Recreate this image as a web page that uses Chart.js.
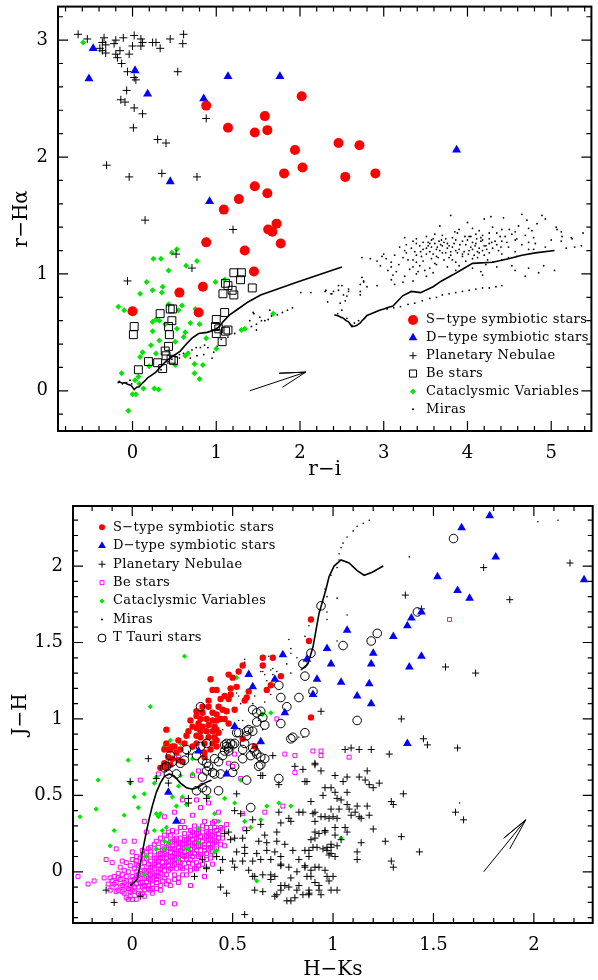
<!DOCTYPE html>
<html>
<head>
<meta charset="utf-8">
<script src="https://cdn.jsdelivr.net/npm/chart.js@4.4.1/dist/chart.umd.min.js"></script>
<style>
  body { margin: 0; background: #fff; }
  canvas { display: block; }
</style>
</head>
<body>
<canvas id="topChart" width="598" height="490"></canvas>
<canvas id="botChart" width="598" height="490"></canvas>
<script>
// ---------- top panel: r-i vs r-Halpha ----------
const topXTicks = [0, 1, 2, 3, 4, 5];
const topYTicks = [0, 1, 2, 3];

const sTypeTop = [[0.88,2.44],[1.58,2.35],[1.14,2.25],[1.46,2.21],[1.61,2.23],[1.94,2.06],[1.81,1.86],[1.46,1.75],[1.61,1.69],[1.27,1.64],[1.09,1.55],[1.72,1.43],[1.62,1.38],[1.67,1.36],[1.77,1.26],[0.88,1.27],[1.34,1.20],[2.02,2.52],[2.03,1.91],[2.46,2.12],[2.71,2.10],[2.54,1.83],[2.90,1.86],[1.45,1.02],[0.56,0.84],[0.84,0.89],[0.00,0.68],[0.79,0.67]];

const dTypeTop = [[-0.47,2.93],[-0.52,2.67],[0.03,2.74],[0.18,2.54],[0.85,2.50],[1.14,2.69],[1.76,2.69],[0.45,1.79],[0.92,1.62],[3.87,2.06]];

const pnTop = [[-0.65,3.05],[-0.54,3.01],[-0.34,3.02],[-0.36,2.98],[-0.32,2.96],[-0.39,2.93],[-0.22,2.97],[-0.20,3.00],[-0.11,3.02],[0.02,3.04],[0.00,2.95],[0.10,3.01],[0.12,2.98],[0.10,2.95],[0.24,2.98],[0.28,2.98],[0.33,2.93],[0.45,3.01],[0.61,3.05],[0.60,2.97],[-0.36,2.91],[-0.32,2.89],[-0.20,2.88],[-0.15,2.91],[-0.18,2.85],[-0.04,2.88],[-0.13,2.80],[-0.06,2.73],[0.02,2.68],[0.04,2.66],[-0.07,2.57],[-0.14,2.49],[-0.09,2.47],[0.02,2.42],[0.12,2.37],[0.01,2.25],[0.30,2.15],[0.40,2.12],[-0.31,1.93],[-0.04,1.83],[0.35,1.86],[0.77,1.83],[0.54,2.73],[0.88,2.33],[0.15,1.46],[1.20,1.38],[-0.06,0.94],[0.52,1.17],[0.71,1.05]];

const beTop = [[1.21,1.01],[1.30,1.01],[1.29,0.95],[1.43,0.88],[1.11,0.92],[1.14,0.90],[1.08,0.83],[1.19,0.86],[1.21,0.82],[0.33,0.66],[0.45,0.70],[0.47,0.60],[0.43,0.55],[0.44,0.48],[0.02,0.55],[0.01,0.48],[1.10,0.67],[1.00,0.61],[0.99,0.55],[1.03,0.53],[1.14,0.52],[1.11,0.51],[1.00,0.49],[1.07,0.42],[0.43,0.38],[0.39,0.34],[0.40,0.30],[0.46,0.27],[0.19,0.25],[0.30,0.24],[0.36,0.19],[0.07,0.18],[0.49,0.26],[0.48,0.70]];

const cvTop = [[0.53,1.21],[0.47,1.18],[0.25,1.13],[0.34,1.13],[0.64,1.07],[0.77,1.11],[0.43,1.03],[0.17,0.93],[0.24,0.86],[0.35,0.84],[0.36,0.89],[0.09,0.83],[0.99,0.93],[1.10,0.95],[-0.17,0.72],[-0.10,0.69],[0.43,0.74],[0.59,0.73],[0.55,0.69],[0.75,0.70],[0.28,0.61],[0.24,0.59],[0.32,0.60],[0.39,0.57],[0.53,0.53],[0.69,0.58],[0.80,0.57],[0.24,0.51],[0.32,0.43],[0.22,0.39],[0.12,0.33],[0.09,0.29],[0.28,0.32],[0.51,0.42],[0.63,0.50],[0.61,0.46],[0.88,0.45],[1.00,0.36],[0.63,0.30],[0.66,0.32],[0.74,0.23],[0.84,0.22],[0.74,0.15],[0.80,0.10],[0.51,0.22],[0.20,0.21],[0.07,0.12],[0.03,0.09],[-0.13,0.15],[0.08,0.06],[0.13,0.02],[0.26,0.02],[0.31,0.01],[0.00,-0.03],[0.04,-0.03],[-0.05,-0.17],[1.30,0.52],[1.34,0.53],[1.68,0.66],[-0.59,2.98]];

const miraTop = [[-0.16,0.08],[-0.12,0.06],[-0.07,0.07],[-0.03,0.09],[-0.01,0.06],[0.34,0.18],[0.36,0.22],[0.43,0.25],[0.47,0.27],[0.52,0.29],[0.56,0.31],[0.61,0.32],[0.67,0.33],[0.71,0.35],[0.76,0.37],[0.81,0.37],[0.86,0.39],[0.90,0.37],[0.95,0.28],[0.97,0.33],[1.01,0.38],[1.06,0.44],[1.14,0.46],[1.22,0.49],[1.30,0.52],[1.36,0.53],[1.42,0.55],[1.48,0.57],[1.54,0.60],[1.62,0.61],[1.66,0.64],[1.45,0.66],[1.40,0.60],[1.52,0.63],[1.64,0.69],[0.69,0.28],[0.77,0.30],[0.85,0.31],[0.63,0.30],[0.56,0.28],[1.44,0.67],[1.48,0.52],[1.58,0.60],[1.73,0.65],[1.79,0.67],[1.85,0.69],[1.91,0.71],
[2.01,0.84],[2.13,0.84],[2.30,0.85],[2.38,0.83],[2.46,0.86],[2.52,0.82],[2.58,0.85],[2.46,0.90],[2.56,0.81],[2.76,0.93],[2.74,0.97],[2.92,0.90],
[3.80,1.50],[4.28,1.49],[4.65,1.51],[4.89,1.50],[4.20,1.47],[4.43,1.48],[4.71,1.46],[4.93,1.47],[4.00,1.44],[4.83,1.43],
[3.67,1.41],[4.06,1.39],[4.30,1.40],[4.50,1.38],[4.61,1.41],[4.73,1.39],[5.06,1.40],
[3.85,1.36],[3.90,1.38],[4.14,1.37],[4.26,1.35],[4.41,1.38],[4.57,1.36],[4.77,1.37],[5.12,1.36],
[3.61,1.34],[3.70,1.33],[3.88,1.35],[4.02,1.32],[4.10,1.34],[4.18,1.33],[4.35,1.35],[4.45,1.32],[4.53,1.34],[4.69,1.33],
[3.25,1.31],[3.39,1.30],[3.51,1.32],[3.59,1.30],[3.82,1.31],[4.00,1.29],[4.04,1.32],[4.16,1.31],[4.26,1.30],[4.39,1.32],[4.59,1.30],[4.79,1.31],[5.00,1.29],[5.24,1.31],
[3.35,1.28],[3.47,1.27],[3.57,1.29],[3.66,1.28],[3.76,1.26],[3.86,1.29],[3.94,1.28],[4.06,1.27],[4.18,1.29],[4.29,1.27],[4.41,1.28],[4.57,1.29],[4.73,1.27],[5.12,1.28],
[3.27,1.25],[3.39,1.26],[3.53,1.24],[3.61,1.26],[3.68,1.25],[3.72,1.27],[3.78,1.24],[3.84,1.26],[3.98,1.25],[4.10,1.26],[4.20,1.24],[4.26,1.26],[4.35,1.25],[4.47,1.27],[4.65,1.25],[4.81,1.26],
[3.19,1.23],[3.33,1.22],[3.43,1.24],[3.51,1.22],[3.57,1.23],[3.63,1.21],[3.70,1.24],[3.76,1.22],[3.82,1.23],[3.90,1.21],[4.04,1.23],[4.14,1.22],[4.22,1.24],[4.30,1.22],[4.49,1.23],[4.73,1.21],[4.93,1.23],[5.18,1.22],[5.28,1.23],
[3.25,1.20],[3.37,1.19],[3.47,1.21],[3.55,1.19],[3.67,1.20],[3.74,1.18],[3.86,1.20],[3.96,1.19],[4.06,1.21],[4.12,1.19],[4.18,1.20],[4.26,1.18],[4.37,1.20],[4.57,1.19],[4.79,1.21],
[3.00,1.17],[3.13,1.16],[3.27,1.18],[3.39,1.16],[3.51,1.17],[3.63,1.15],[3.70,1.18],[3.80,1.16],[3.94,1.17],[4.08,1.16],[4.14,1.18],[4.20,1.16],[4.41,1.17],[4.59,1.15],
[2.74,1.14],[2.84,1.13],[2.98,1.15],[3.03,1.13],[3.23,1.14],[3.35,1.12],[3.45,1.15],[3.57,1.13],[3.65,1.14],[3.82,1.12],[3.94,1.15],[4.06,1.13],[4.12,1.14],[4.24,1.12],[4.49,1.14],
[2.92,1.11],[3.09,1.10],[3.29,1.12],[3.39,1.10],[3.47,1.11],[3.61,1.09],[3.72,1.12],[3.86,1.10],[3.98,1.11],[4.30,1.10],[4.41,1.12],
[2.96,1.07],[3.09,1.06],[3.18,1.08],[3.35,1.06],[3.43,1.07],[3.55,1.05],[3.63,1.08],[3.76,1.06],[3.90,1.07],[4.06,1.05],[4.22,1.08],[4.35,1.06],[4.53,1.07],[4.73,1.05],[4.91,1.07],
[3.05,1.03],[3.15,1.02],[3.31,1.04],[3.41,1.02],[3.49,1.03],[3.59,1.01],[3.86,1.03],[4.16,1.02],[4.57,1.03],[4.85,1.01],[5.04,1.03],
[3.11,0.99],[3.25,0.98],[3.39,1.00],[3.51,0.98],[4.18,0.99],[4.69,0.98],
[3.53,1.27],[3.64,1.23],[3.74,1.30],[3.80,1.19],[3.91,1.25],[3.97,1.32],[4.02,1.20],[4.09,1.24],[4.16,1.28],[4.23,1.21],[3.59,1.17],[3.69,1.29],[3.78,1.14],[3.88,1.18],[4.01,1.17],[4.11,1.30],[4.33,1.28],[4.40,1.23],[3.44,1.19],[3.55,1.26],
[2.76,0.94],[3.09,0.95],[3.23,0.93],[3.35,0.94],[2.50,0.90],[2.72,0.91],[2.80,0.89],[3.13,0.91],
[2.31,0.86],[2.40,0.85],[2.58,0.87],[2.72,0.85],[2.37,0.83],[2.72,0.82],[2.33,0.76],[2.48,0.75],[2.54,0.77],
[3.04,0.70],[3.12,0.71],[3.20,0.72],[3.29,0.74],[3.37,0.75],[3.46,0.77],[3.55,0.79],[3.63,0.80],[3.70,0.82],[3.78,0.83],[3.86,0.84],[3.94,0.85],[4.02,0.86],[4.10,0.87],[4.18,0.88],[4.26,0.88],[4.34,0.89],[4.41,0.90],
[2.45,0.66],[2.50,0.69],[2.56,0.62],[2.65,0.58],[2.70,0.60],[2.62,0.56],
[5.07,1.38],[5.13,1.32],[5.25,1.30],[5.38,1.35],[5.36,1.24]];

const lineTopA = [[-0.18,0.07],[-0.15,0.075],[-0.12,0.065],[-0.09,0.07],[-0.06,0.055],[-0.03,0.05],[-0.01,0.04],[0.02,0.01],[0.05,0.03],[0.08,0.035],[0.11,0.06],[0.14,0.08],[0.18,0.11],[0.22,0.13],[0.28,0.16],[0.34,0.21],[0.41,0.26],[0.49,0.30],[0.57,0.34],[0.63,0.39],[0.71,0.45],[0.79,0.49],[0.89,0.50],[0.98,0.52],[1.04,0.55],[1.08,0.59],[1.16,0.65],[1.26,0.70],[1.38,0.76],[1.53,0.82],[1.69,0.86],[1.97,0.93],[2.50,1.06]];
const lineTopB = [[2.41,0.65],[2.44,0.645],[2.46,0.64],[2.49,0.63],[2.52,0.62],[2.55,0.60],[2.58,0.59],[2.60,0.57],[2.62,0.55],[2.66,0.555],[2.68,0.56],[2.72,0.58],[2.74,0.60],[2.77,0.62],[2.80,0.645],[2.85,0.66],[2.90,0.675],[2.95,0.69],[3.00,0.70],[3.06,0.715],[3.11,0.725],[3.17,0.77],[3.23,0.815],[3.33,0.85],[3.44,0.84],[3.59,0.89],[3.69,0.94],[3.82,0.99],[3.94,1.04],[4.06,1.09],[4.30,1.10],[4.49,1.13],[4.65,1.16],[4.81,1.18],[5.04,1.20]];
const arrowTop = [[1.40,0.00],[2.07,0.16],[1.75,0.15],[2.07,0.16],[1.79,0.03]];

// ---------- bottom panel: H-Ks vs J-H ----------
const botXTicks = [0, 0.5, 1, 1.5, 2];
const botYTicks = [0, 0.5, 1, 1.5, 2];

const sTypeBot = [[0.89,1.65],[0.88,1.51],[0.65,1.40],[0.70,1.40],[0.55,1.35],[0.65,1.35],[0.53,1.31],[0.48,1.29],[0.50,1.27],[0.39,1.26],[0.52,1.21],[0.49,1.20],[0.42,1.19],[0.40,1.19],[0.67,1.19],[0.69,1.22],[0.74,1.28],[0.58,1.18],[0.57,1.14],[0.56,1.12],[0.49,1.16],[0.46,1.15],[0.44,1.13],[0.48,1.13],[0.38,1.08],[0.35,1.08],[0.32,1.05],[0.35,1.04],[0.40,1.04],[0.42,1.03],[0.45,1.06],[0.47,1.05],[0.51,1.06],[0.32,1.02],[0.34,1.00],[0.37,1.00],[0.40,0.99],[0.42,0.99],[0.44,1.00],[0.46,1.00],[0.48,0.97],[0.33,0.97],[0.35,0.95],[0.38,0.96],[0.41,0.95],[0.32,0.94],[0.34,0.92],[0.37,0.92],[0.40,0.92],[0.42,0.93],[0.43,0.91],[0.32,0.89],[0.34,0.88],[0.38,0.88],[0.41,0.88],[0.42,0.86],[0.28,0.92],[0.27,0.89],[0.23,0.86],[0.26,0.84],[0.30,0.82],[0.32,0.84],[0.36,0.84],[0.40,0.84],[0.42,0.82],[0.21,0.82],[0.17,0.84],[0.19,0.80],[0.22,0.78],[0.24,0.80],[0.18,0.75],[0.20,0.74],[0.16,0.71],[0.17,0.68],[0.23,0.73],[0.36,0.78],[0.39,0.80],[0.55,0.87],[0.61,0.82],[0.89,1.01],[0.38,1.12],[0.43,1.08],[0.30,0.95],[0.29,0.99],[0.14,0.68],[0.17,0.93],[0.16,0.80],[0.18,0.80],[0.20,0.82],[0.25,0.72],[0.19,0.70],[0.36,0.75]];

const dTypeBot = [[1.78,2.33],[1.64,2.25],[1.81,2.06],[1.52,1.93],[2.25,1.91],[1.62,1.84],[1.68,1.79],[1.44,1.70],[1.39,1.66],[1.37,1.61],[1.30,1.54],[1.07,1.58],[0.97,1.46],[1.20,1.43],[0.99,1.36],[1.19,1.36],[1.44,1.41],[1.38,1.34],[0.87,1.39],[0.92,1.26],[1.04,1.24],[1.18,1.23],[0.90,1.16],[1.12,1.15],[1.19,1.10],[0.75,1.42],[0.58,1.29],[0.71,1.26],[0.60,1.21],[0.76,1.04],[0.51,0.95],[0.64,0.85],[0.33,0.79],[0.47,0.64],[0.18,0.52],[0.22,0.33],[1.37,0.84]];

const pnBot = [[0.64,0.63],[0.87,0.59],[0.96,0.55],[1.01,0.52],[0.95,0.50],[0.90,0.38],[0.83,0.39],[0.78,0.35],[0.74,0.32],[0.79,0.33],[0.91,0.33],[0.96,0.36],[1.00,0.36],[0.91,0.26],[0.96,0.26],[1.02,0.35],[1.01,0.24],[0.72,0.26],[0.66,0.24],[0.60,0.34],[0.54,0.38],[0.48,0.26],[0.51,0.22],[0.55,0.22],[0.63,0.20],[0.67,0.19],[0.72,0.20],[0.76,0.18],[0.80,0.14],[0.88,0.14],[0.83,0.08],[0.74,0.10],[0.71,0.13],[0.67,0.14],[0.62,0.12],[0.56,0.12],[0.50,0.07],[0.45,0.08],[0.42,0.10],[0.60,0.07],[0.64,0.08],[0.69,0.08],[0.74,0.04],[0.78,0.03],[0.82,0.00],[0.86,0.03],[0.89,0.01],[0.93,0.03],[0.97,0.14],[0.99,0.18],[1.01,0.10],[0.96,0.01],[1.00,-0.03],[1.02,-0.12],[0.91,-0.07],[0.87,-0.03],[0.83,-0.09],[0.76,-0.09],[0.79,-0.04],[0.71,-0.03],[0.69,-0.05],[0.65,-0.02],[0.60,-0.03],[0.58,0.01],[0.51,0.03],[0.74,-0.09],[0.81,-0.17],[0.88,-0.15],[0.93,-0.12],[0.82,-0.12],[0.74,-0.12],[0.77,-0.19],[0.72,-0.15],[0.61,-0.12],[0.35,0.08],[0.31,-0.03],[0.37,0.02],[0.44,-0.10],[0.49,0.21],[0.46,0.25],[0.56,0.16],[0.52,0.13],[0.51,0.40],[0.52,0.51],[0.37,0.48],[0.28,0.48],[0.28,0.45],[0.12,0.61],[-0.01,0.59],[0.73,0.57],[0.73,0.39],[0.64,0.31],[0.44,0.01],[0.55,0.07],[-0.13,-0.12],[-0.09,-0.20],[0.04,-0.16],[0.56,-0.28],
[1.45,0.87],[1.47,0.83],[1.62,0.81],[1.28,0.77],[1.19,0.80],[1.13,0.80],[1.09,0.81],[1.06,0.80],[0.91,0.70],[0.94,0.66],[0.85,0.67],[0.86,0.59],[1.01,0.63],[1.05,0.59],[1.07,0.62],[1.13,0.62],[1.17,0.66],[1.16,0.60],[1.18,0.57],[1.20,0.55],[1.23,0.58],[0.99,0.55],[1.07,0.52],[1.02,0.48],[1.04,0.47],[0.89,0.46],[1.35,0.51],[1.29,0.46],[1.30,0.44],[1.61,0.39],[1.65,0.34],[1.17,0.43],[1.12,0.43],[1.08,0.41],[1.07,0.44],[1.03,0.41],[0.99,0.41],[0.98,0.35],[0.94,0.36],[0.91,0.39],[0.85,0.39],[1.14,0.35],[1.18,0.37],[1.13,0.36],[1.09,0.37],[1.11,0.39],[1.20,0.28],[1.01,0.29],[1.06,0.29],[1.07,0.26],[1.04,0.21],[1.02,0.17],[0.99,0.16],[0.97,0.16],[0.95,0.15],[0.92,0.16],[0.90,0.16],[0.86,0.14],[0.89,0.21],[0.96,0.27],[0.93,0.25],[0.91,0.22],[1.14,0.19],[1.12,0.13],[1.12,0.08],[1.26,0.20],[1.34,0.23],[1.43,0.13],[1.29,0.07],[1.30,0.03],[0.99,0.12],[0.98,0.11],[0.88,0.10],[0.86,0.04],[0.91,0.03],[0.89,-0.03],[0.97,-0.03],[0.98,-0.06],[0.88,-0.12],[0.88,-0.14],[0.93,-0.09],[0.94,-0.15],[0.99,-0.12],[0.85,-0.15],
[1.75,1.99],[2.18,2.02],[1.36,1.81],[1.88,1.78],[1.44,1.72],[1.56,1.34],[1.71,1.30],[0.94,1.05],[1.34,1.00],
[0.08,0.74],[0.18,0.58],[0.57,0.27],[0.37,0.03],[0.47,-0.14],[0.61,-0.03],[0.65,-0.13],[0.69,-0.02],[0.74,0.05],[0.78,-0.10],[0.79,-0.19],[0.71,-0.16],
[0.70,0.76],[0.81,0.69],[0.91,0.71],[0.65,0.63],[0.28,0.77]];

const beBot = [[-0.07,-0.12],[-0.05,-0.09],[-0.06,-0.05],[-0.04,-0.14],[-0.03,-0.06],[-0.02,-0.11],[-0.05,-0.02],[-0.01,-0.16],[0.00,-0.08],[0.01,-0.13],[-0.02,0.00],[0.02,-0.04],[0.03,-0.10],[0.01,0.02],[0.04,-0.15],[0.04,-0.01],[0.05,-0.07],[0.03,0.04],[0.06,-0.12],[0.07,-0.03],[0.06,0.06],[0.08,-0.09],[0.08,0.01],[0.09,-0.05],[0.07,0.09],[0.10,-0.11],[0.10,0.03],[0.11,-0.02],[0.09,0.11],[0.12,-0.07],[0.12,0.06],[0.13,0.00],[0.11,0.13],[0.14,-0.09],[0.14,0.09],[0.15,0.03],[0.13,0.16],[0.16,-0.04],[0.16,0.12],[0.17,0.06],[0.15,0.19],[0.18,-0.06],[0.18,0.01],[0.19,0.10],[0.17,0.21],[0.20,0.15],[0.20,0.04],[0.21,-0.02],[0.21,0.08],[0.19,0.24],[0.22,0.18],[0.23,0.12],[0.22,0.02],[0.24,0.06],[0.24,0.22],[0.25,0.15],[0.23,-0.04],[0.26,0.10],[0.26,0.25],[0.27,0.18],[0.27,0.03],[0.28,0.13],[0.28,0.22],[0.29,0.08],[0.30,0.17],[0.29,0.27],[0.31,0.12],[0.31,0.24],[0.32,0.06],[0.32,0.19],[0.33,0.28],[0.34,0.14],[0.34,0.23],[0.35,0.09],[0.35,0.30],[0.36,0.18],[0.37,0.26],[0.37,0.12],[0.38,0.21],[0.39,0.29],[0.39,0.16],[0.40,0.24],[0.41,0.19],[0.42,0.27],[0.40,0.13],
[-0.06,-0.10],[-0.04,-0.07],[-0.03,-0.03],[-0.01,-0.09],[0.00,-0.03],[0.00,-0.12],[0.02,-0.08],[0.02,0.00],[0.03,-0.05],[0.05,-0.10],[0.05,-0.02],[0.05,0.03],[0.07,-0.07],[0.07,0.00],[0.08,0.05],[0.09,-0.02],[0.09,0.07],[0.10,-0.06],[0.11,0.02],[0.11,0.09],[0.12,-0.03],[0.13,0.04],[0.13,0.11],[0.14,-0.01],[0.15,0.06],[0.15,0.14],[0.16,0.01],[0.17,0.09],[0.17,0.16],[0.18,0.04],[0.19,0.13],[0.19,0.19],[0.20,0.07],[0.21,0.12],[0.21,0.21],[0.22,0.09],[0.23,0.16],[0.23,0.06],[0.24,0.19],[0.25,0.11],[0.25,0.02],[0.26,0.16],[0.27,0.21],[0.27,0.08],[0.28,0.17],[0.29,0.12],[0.30,0.21],[0.30,0.05],[0.31,0.16],[0.32,0.25],[0.33,0.10],[0.33,0.21],[0.34,0.17],[0.36,0.22],[0.36,0.14],[0.38,0.18],[0.38,0.25],[-0.08,-0.07],[-0.08,-0.13],[-0.09,-0.03],[-0.02,-0.18],[0.02,-0.18],[0.06,-0.16],[0.10,-0.14],[0.14,-0.12],[0.19,-0.09],[0.23,-0.07],[0.27,-0.02],[0.31,0.02],[0.35,0.05],[0.39,0.09],[0.42,0.15],[0.43,0.22],[0.44,0.29],[0.40,0.32],[0.36,0.33],[0.31,0.30],[0.26,0.29],[0.22,0.26],[0.18,0.26],[0.14,0.22],[0.11,0.18],[0.08,0.15],[0.05,0.11],[0.02,0.07],[-0.01,0.04],[-0.04,0.01],[-0.07,-0.01],[-0.10,-0.06],[-0.10,-0.10],
[-0.09,-0.08],[-0.07,-0.04],[-0.05,-0.13],[-0.03,-0.10],[-0.01,-0.06],[-0.01,-0.13],[0.01,-0.05],[0.01,-0.10],[0.03,-0.02],[0.03,-0.14],[0.04,-0.07],[0.06,-0.04],[0.06,-0.09],[0.06,0.01],[0.08,-0.04],[0.08,-0.11],[0.09,0.03],[0.10,-0.01],[0.10,-0.08],[0.11,0.05],[0.12,-0.05],[0.12,0.09],[0.13,-0.03],[0.13,0.07],[0.14,0.02],[0.14,0.12],[0.15,-0.06],[0.15,0.09],[0.16,0.04],[0.16,0.15],[0.17,-0.02],[0.17,0.11],[0.18,0.07],[0.18,0.17],[0.19,0.02],[0.19,0.15],[0.20,0.10],[0.20,0.20],[0.21,0.05],[0.21,0.15],[0.22,0.22],[0.22,0.12],[0.23,0.09],[0.23,0.19],[0.24,0.14],[0.24,0.03],[0.25,0.18],[0.25,0.08],[0.26,0.13],[0.26,0.21],[0.27,0.11],[0.28,0.19],[0.28,0.06],[0.29,0.15],[0.29,0.23],[0.30,0.10],[0.30,0.26],[0.31,0.19],[0.32,0.14],[0.32,0.22],[0.33,0.17],[0.33,0.25],[0.34,0.11],[0.35,0.20],[0.35,0.26],[0.36,0.16],[0.37,0.23],[0.37,0.29],[0.38,0.15],[0.39,0.21],[0.39,0.26],[0.40,0.18],[0.41,0.23],[0.41,0.29],[0.42,0.20],[0.43,0.25],[0.44,0.18],[-0.11,-0.12],[-0.12,-0.08],[-0.11,-0.04],[-0.03,-0.17],[0.00,-0.18],[0.05,-0.14],[0.09,-0.12],[0.12,-0.11],[0.17,-0.08],[0.21,-0.05],[0.25,-0.02],[0.29,0.01],[0.33,0.04],[0.37,0.08],[0.41,0.11],[0.45,0.22],[0.46,0.17],[0.02,0.10],[0.05,0.14],[0.09,0.16],[0.12,0.20],[0.16,0.24],[0.20,0.27],[0.24,0.29],[-0.06,0.03],[-0.03,0.06],[0.00,0.08],[0.04,0.09],[0.02,0.05],[-0.05,0.07],[0.07,0.13],
[-0.19,-0.06],[-0.14,-0.04],[-0.13,0.08],[-0.10,0.06],[-0.08,0.15],[-0.04,0.20],[0.01,0.20],[0.07,0.26],[0.15,-0.20],[0.21,-0.21],[0.32,0.02],[0.29,-0.09],[0.45,0.28],[0.41,0.33],[0.30,0.37],[0.25,0.47],[0.32,0.47],[0.21,0.39],[0.56,0.28],[0.55,0.38],[0.66,0.39],[0.75,0.43],[0.04,0.60],[-0.27,-0.03],[0.76,0.77],[0.81,0.76],[0.81,0.65],[0.90,0.79],[0.94,0.79],[0.94,0.76],[1.08,0.75],[1.58,1.65],[0.72,1.00],[0.51,0.77],[0.48,0.71],[0.50,0.69],[0.54,0.61],[0.30,0.63],[0.33,0.66],[0.23,0.75],[0.13,0.64],[0.34,0.42],[0.38,0.45],[0.25,0.33],[0.16,0.36],[0.06,0.33],[0.43,0.39],[0.47,0.31],[-0.22,-0.08],[0.00,0.13],[0.36,-0.03],[0.40,0.05]];

const cvBot = [[-0.02,0.73],[-0.17,0.60],[-0.18,0.41],[-0.26,0.36],[-0.09,0.27],[-0.11,0.17],[-0.04,0.37],[-0.01,0.58],[0.01,0.49],[0.03,0.42],[0.06,0.51],[0.12,0.62],[0.11,0.58],[0.13,0.36],[0.14,0.38],[0.15,0.27],[0.17,0.29],[0.16,0.15],[0.20,0.49],[0.22,0.43],[0.25,0.49],[0.23,0.56],[0.27,0.44],[0.24,0.63],[0.30,0.64],[0.33,0.28],[0.33,0.19],[0.28,0.15],[0.23,0.08],[0.06,-0.02],[0.19,0.86],[0.19,0.79],[0.38,0.49],[0.43,0.33],[0.41,0.13],[0.46,0.48],[0.54,0.60],[0.62,-0.06],[0.67,0.43],[0.73,0.45],[0.79,0.43],[0.64,0.34],[0.56,0.33],[0.07,0.10],[0.12,0.15],[0.16,0.20],[0.18,0.19],[0.27,0.15],[0.11,0.27],[0.12,0.38],[0.42,0.14],[0.41,0.38],[0.51,0.45],[0.59,0.29],[0.26,1.41],[0.09,1.08],[0.52,1.27],[0.65,1.03],[0.69,1.04],[0.16,0.82],[0.24,0.84],[0.30,0.74],[1.04,0.22],[0.30,0.81]];

const miraBot = [[1.18,2.30],[1.15,2.28],[1.12,2.26],[1.10,2.23],[1.07,2.19],[1.05,2.15],[1.04,2.12],[1.03,2.08],[1.03,2.04],[1.02,1.99],[0.99,1.94],[0.96,1.85],[0.97,1.80],[1.02,1.79],[1.07,1.68],[0.97,1.65],[0.97,1.70],[0.88,1.61],[0.86,1.54],[1.02,1.51],[1.38,2.06],[2.02,2.29],[0.83,0.88],[0.85,0.88],[0.78,1.52],[0.79,1.43],[0.77,1.36],[0.79,1.30],[0.69,1.32],[0.70,1.29],[0.65,1.31],[0.74,1.41],[0.68,1.41],[0.56,1.39],[0.61,1.15],[0.56,1.12],[0.50,1.06],[0.53,0.99],[0.45,0.93],[0.66,1.11],[0.69,1.16],[0.63,0.99],[0.65,0.93],[0.56,1.37],[0.64,1.31],[0.66,1.29],[0.67,1.25],[0.70,1.33],[0.72,1.31],[0.79,1.46],[0.82,1.40],[0.60,1.10],[0.54,1.10],[0.55,0.99],[0.53,1.15],[0.52,1.17],[1.63,0.45],[2.12,2.30],[0.74,1.27]];

const tTauriBot = [[1.60,2.18],[0.94,1.74],[1.42,1.70],[1.22,1.56],[1.19,1.51],[1.05,1.48],[0.89,1.43],[0.85,1.36],[0.86,1.28],[0.90,1.18],[0.83,1.14],[1.12,0.99],[0.34,1.08],[0.73,1.22],[0.74,1.14],[0.77,1.08],[0.74,0.97],[0.60,1.06],[0.62,1.04],[0.58,0.93],[0.66,0.96],[0.80,0.88],[0.64,1.05],[0.65,1.01],[0.62,0.98],[0.60,0.92],[0.57,0.92],[0.57,0.89],[0.53,0.91],[0.51,0.84],[0.49,0.84],[0.47,0.82],[0.48,0.79],[0.46,0.79],[0.47,0.84],[0.45,0.76],[0.55,0.80],[0.55,0.74],[0.59,0.76],[0.61,0.79],[0.64,0.75],[0.63,0.69],[0.66,0.74],[0.41,0.74],[0.43,0.72],[0.37,0.71],[0.38,0.69],[0.41,0.64],[0.37,0.66],[0.35,0.62],[0.24,0.71],[0.26,0.73],[0.19,0.76],[0.17,0.69],[0.18,0.64],[0.22,0.64],[0.86,0.91],[0.16,0.68],[0.20,0.72],[0.27,0.80],[0.32,0.76],[0.35,0.73],[0.40,0.65],[0.34,0.82],[0.37,0.84],[0.46,0.83],[0.48,0.81],[0.50,0.83],[0.52,0.91],[0.56,0.84],[0.60,0.81],[0.62,0.77],[0.64,0.70],[0.51,0.69],[0.50,0.65],[0.44,0.64],[0.35,0.55],[0.32,0.53],[0.37,0.53],[0.43,0.53],[0.57,0.60],[0.59,0.42],[0.73,0.61],[0.79,0.87]];

const lineBotA = [[-0.01,-0.09],[0.025,-0.05],[0.04,0.05],[0.055,0.16],[0.07,0.26],[0.085,0.35],[0.10,0.43],[0.12,0.52],[0.14,0.58],[0.16,0.625],[0.185,0.64],[0.21,0.625],[0.24,0.58],[0.27,0.55],[0.30,0.54],[0.33,0.555],[0.36,0.58],[0.395,0.60]];
const lineBotB = [[0.84,1.32],[0.875,1.36],[0.90,1.47],[0.915,1.58],[0.93,1.69],[0.95,1.78],[0.965,1.85],[0.98,1.93],[1.005,2.00],[1.04,2.04],[1.08,2.02],[1.12,1.97],[1.155,1.94],[1.195,1.96],[1.25,2.00]];
const arrowBot = [[1.75,0.00],[1.96,0.34],[1.85,0.22],[1.96,0.34],[1.88,0.15]];

// ---------- helpers ----------
const RED = '#ff0000', BLUE = '#0000ff', GREEN = '#00e600', MAG = '#ff00ff', NONE = 'rgba(0,0,0,0)';

function pts(a) { return a.map(p => ({ x: p[0], y: p[1] })); }

function marks(label, data, style, r, fill, stroke, bw, order) {
  return { label, data: pts(data), pointStyle: style, pointRadius: r, pointBackgroundColor: fill,
           pointBorderColor: stroke, pointBorderWidth: bw, showLine: false, order };
}
function curve(data, w) {
  return { label: '', data: pts(data), showLine: true, borderColor: '#000', borderWidth: w,
           pointRadius: 0, fill: false, order: 0 };
}

function fmt(v) { return String(v); }

const panelPlugin = {
  id: 'panel',
  afterDraw(chart, args, o) {
    const ctx = chart.ctx, a = chart.chartArea;
    const xs = chart.scales.x, ys = chart.scales.y;
    ctx.save();
    ctx.strokeStyle = '#000';
    ctx.fillStyle = '#000';

    // inward ticks on all four sides
    ctx.lineWidth = 1.2;
    ctx.beginPath();
    const tick = (scale, minor, major, horiz) => {
      const n0 = Math.ceil(scale.min / minor - 1e-9), n1 = Math.floor(scale.max / minor + 1e-9);
      for (let i = n0; i <= n1; i++) {
        const v = i * minor;
        const len = Math.abs(v / major - Math.round(v / major)) < 1e-6 ? 10 : 5;
        const p = scale.getPixelForValue(v);
        if (horiz) {
          ctx.moveTo(p, a.bottom); ctx.lineTo(p, a.bottom - len);
          ctx.moveTo(p, a.top); ctx.lineTo(p, a.top + len);
        } else {
          ctx.moveTo(a.left, p); ctx.lineTo(a.left + len, p);
          ctx.moveTo(a.right, p); ctx.lineTo(a.right - len, p);
        }
      }
    };
    tick(xs, o.xMinor, o.xMajor, true);
    tick(ys, o.yMinor, o.yMajor, false);
    ctx.stroke();

    ctx.lineWidth = 2;
    ctx.strokeRect(a.left, a.top, a.right - a.left, a.bottom - a.top);

    // tick labels
    ctx.font = '18px "DejaVu Serif"';
    ctx.textAlign = 'center';
    ctx.textBaseline = 'alphabetic';
    o.xTicks.forEach(v => ctx.fillText(fmt(v), xs.getPixelForValue(v), a.bottom + 27));
    ctx.textAlign = 'right';
    ctx.textBaseline = 'middle';
    o.yTicks.forEach(v => ctx.fillText(fmt(v), a.left - 10, ys.getPixelForValue(v)));

    // axis titles
    ctx.font = '20px "DejaVu Serif"';
    ctx.textAlign = 'center';
    ctx.textBaseline = 'alphabetic';
    ctx.fillText(o.xTitle, (a.left + a.right) / 2, o.xTitleY);
    ctx.save();
    ctx.translate(o.yTitleX, (a.top + a.bottom) / 2);
    ctx.rotate(-Math.PI / 2);
    ctx.fillText(o.yTitle, 0, 0);
    ctx.restore();

    // legend inside the plot
    const L = o.legend;
    ctx.font = '13px "DejaVu Serif"';
    if ('letterSpacing' in ctx) ctx.letterSpacing = '0.4px';
    ctx.textAlign = 'left';
    ctx.textBaseline = 'middle';
    L.items.forEach((it, i) => {
      const ds = chart.data.datasets[it.ds];
      const y = L.y + i * L.dy;
      ctx.fillStyle = ds.pointBackgroundColor;
      ctx.strokeStyle = ds.pointBorderColor;
      ctx.lineWidth = ds.pointBorderWidth;
      Chart.helpers.drawPoint(ctx, { pointStyle: ds.pointStyle, radius: it.r, rotation: 0,
                                     borderWidth: ds.pointBorderWidth }, L.x, y);
      ctx.fillStyle = '#000';
      ctx.fillText(ds.label, L.tx, y);
    });
    ctx.restore();
  }
};

function baseOptions(pad, xr, yr, panel) {
  return {
    responsive: false, animation: false, devicePixelRatio: 1, events: [],
    layout: { padding: pad },
    scales: {
      x: { type: 'linear', min: xr[0], max: xr[1], display: false },
      y: { type: 'linear', min: yr[0], max: yr[1], display: false }
    },
    plugins: { legend: { display: false }, tooltip: { enabled: false }, panel }
  };
}

// ---------- top chart ----------
new Chart(document.getElementById('topChart'), {
  type: 'scatter',
  data: { datasets: [
    marks('S\u2212type symbiotic stars', sTypeTop, 'circle', 5, RED, RED, 0, 1),
    marks('D\u2212type symbiotic stars', dTypeTop, 'triangle', 5.2, BLUE, BLUE, 0, 2),
    marks('Planetary Nebulae', pnTop, 'cross', 4, NONE, '#000', 1, 3),
    marks('Be stars', beTop, 'rect', 5.6, NONE, '#000', 1, 4),
    marks('Cataclysmic Variables', cvTop, 'rectRot', 3, GREEN, GREEN, 0, 5),
    marks('Miras', miraTop, 'circle', 0.9, '#000', '#000', 0, 6),
    curve(lineTopA, 1.6), curve(lineTopB, 1.6), curve(arrowTop, 1)
  ] },
  options: baseOptions({ left: 58, right: 1, top: 5, bottom: 59 }, [-0.89, 5.48], [-0.344, 3.287], {
    xTicks: topXTicks, yTicks: topYTicks, xMinor: 0.2, xMajor: 1, yMinor: 0.2, yMajor: 1,
    xTitle: 'r\u2212i', yTitle: 'r\u2212H\u03b1', xTitleY: 475, yTitleX: 27,
    legend: { x: 413, tx: 426, y: 320, dy: 17.85,
      items: [{ ds: 0, r: 5 }, { ds: 1, r: 5 }, { ds: 2, r: 3.5 }, { ds: 3, r: 5 }, { ds: 4, r: 3 }, { ds: 5, r: 1 }] }
  }),
  plugins: [panelPlugin]
});

// ---------- bottom chart ----------
new Chart(document.getElementById('botChart'), {
  type: 'scatter',
  data: { datasets: [
    marks('S\u2212type symbiotic stars', sTypeBot, 'circle', 3.2, RED, RED, 0, 4),
    marks('D\u2212type symbiotic stars', dTypeBot, 'triangle', 5, BLUE, BLUE, 0, 1),
    marks('Planetary Nebulae', pnBot, 'cross', 3.5, NONE, '#000', 1, 2),
    marks('Be stars', beBot, 'rect', 2.8, NONE, MAG, 1, 7),
    marks('Cataclysmic Variables', cvBot, 'rectRot', 2.6, GREEN, GREEN, 0, 6),
    marks('Miras', miraBot, 'circle', 0.8, '#000', '#000', 0, 5),
    marks('T Tauri stars', tTauriBot, 'circle', 4.3, NONE, '#000', 1, 3),
    curve(lineBotA, 1.6), curve(lineBotB, 1.6), curve(arrowBot, 1)
  ] },
  options: baseOptions({ left: 73, right: 1, top: 16, bottom: 57 }, [-0.295, 2.293], [-0.335, 2.393], {
    xTicks: botXTicks, yTicks: botYTicks, xMinor: 0.1, xMajor: 0.5, yMinor: 0.1, yMajor: 0.5,
    xTitle: 'H\u2212Ks', yTitle: 'J\u2212H', xTitleY: 485, yTitleX: 26,
    legend: { x: 102, tx: 113, y: 37.3, dy: 18.45,
      items: [{ ds: 0, r: 3 }, { ds: 1, r: 4.5 }, { ds: 2, r: 3.5 }, { ds: 3, r: 2.8 }, { ds: 4, r: 2.6 }, { ds: 5, r: 1 }, { ds: 6, r: 4 }] }
  }),
  plugins: [panelPlugin]
});
</script>
</body>
</html>
